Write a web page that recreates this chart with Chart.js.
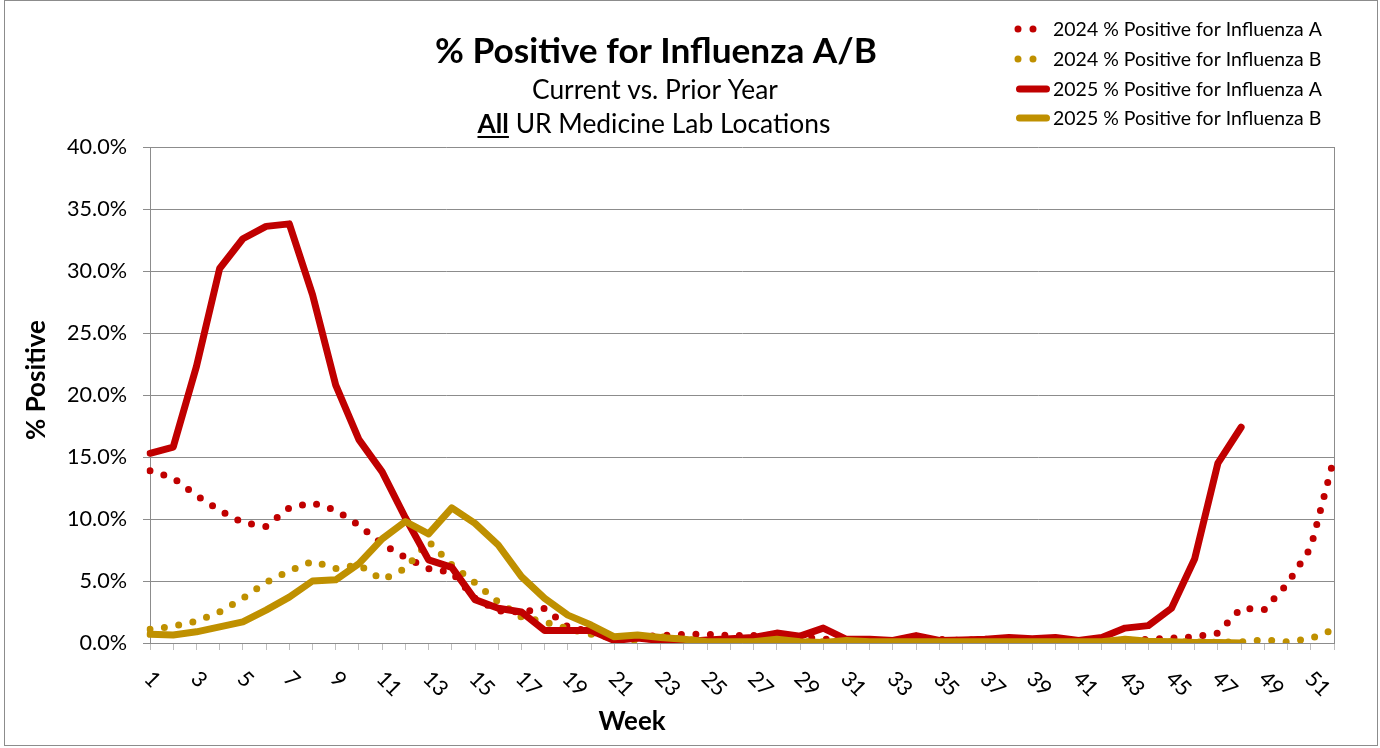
<!DOCTYPE html>
<html lang="en">
<head>
<meta charset="utf-8">
<title>% Positive for Influenza A/B</title>
<script src="https://cdn.jsdelivr.net/npm/chart.js@4.4.1/dist/chart.umd.min.js"></script>
<style>
  html, body { margin: 0; padding: 0; background: #fff; }
  #wrap { position: relative; width: 1380px; height: 748px; }
</style>
</head>
<body>
<div id="wrap"><canvas id="flu-chart"></canvas></div>
<script>
// week categories on the x axis
const weekLabels = [
  '1', '2', '3', '4', '5', '6', '7', '8', '9', '10', '11', '12', '13',
  '14', '15', '16', '17', '18', '19', '20', '21', '22', '23', '24', '25', '26',
  '27', '28', '29', '30', '31', '32', '33', '34', '35', '36', '37', '38', '39',
  '40', '41', '42', '43', '44', '45', '46', '47', '48', '49', '50', '51', '52',
];

// % positive
const fluA2024 = [
  13.9, 13.3, 11.9, 10.7, 9.7, 9.4, 10.9, 11.3, 10.7, 9.5,
  8.0, 6.9, 6.0, 5.7, 3.6, 2.6, 2.5, 2.8, 1.3, 0.9,
  0.5, 0.5, 0.6, 0.7, 0.7, 0.6, 0.6, 0.6, 0.5, 0.3,
  0.3, 0.2, 0.2, 0.3, 0.3, 0.2, 0.3, 0.3, 0.2, 0.2,
  0.2, 0.2, 0.2, 0.3, 0.4, 0.5, 0.8, 2.8, 2.7, 4.8,
  7.7, 14.9,
];
const fluB2024 = [
  1.1, 1.35, 1.75, 2.5, 3.6, 4.9, 5.8, 6.6, 6.0, 6.3,
  5.1, 6.0, 8.2, 6.3, 4.85, 3.3, 2.1, 1.7, 1.15, 0.7,
  0.4, 0.2, 0.5, 0.3, 0.2, 0.2, 0.15, 0.1, 0.1, 0.1,
  0.1, 0.1, 0.1, 0.1, 0.1, 0.1, 0.1, 0.1, 0.1, 0.1,
  0.1, 0.1, 0.15, 0.1, 0.1, 0.1, 0.05, 0.1, 0.25, 0.1,
  0.35, 1.1,
];
const fluA2025 = [
  15.3, 15.8, 22.3, 30.2, 32.6, 33.6, 33.8, 28.1, 20.8, 16.4,
  13.8, 10.1, 6.7, 6.1, 3.5, 2.8, 2.5, 1.0, 1.0, 1.0,
  0.2, 0.4, 0.2, 0.1, 0.25, 0.35, 0.45, 0.8, 0.55, 1.2,
  0.3, 0.3, 0.2, 0.6, 0.2, 0.25, 0.3, 0.45, 0.35, 0.45,
  0.2, 0.45, 1.2, 1.4, 2.8, 6.8, 14.5, 17.4, null, null,
  null, null,
];
const fluB2025 = [
  0.7, 0.65, 0.9, 1.3, 1.7, 2.65, 3.7, 5.0, 5.1, 6.4,
  8.4, 9.8, 8.8, 10.9, 9.65, 7.9, 5.35, 3.6, 2.25, 1.45,
  0.5, 0.65, 0.45, 0.3, 0.1, 0.1, 0.1, 0.3, 0.1, 0.05,
  0.2, 0.1, 0.1, 0.1, 0.1, 0.1, 0.1, 0.1, 0.1, 0.1,
  0.1, 0.1, 0.3, 0.15, 0.1, 0.05, 0.05, 0.0, null, null,
  null, null,
];

const seriesNames = [
  '2024 % Positive for Influenza A',
  '2024 % Positive for Influenza B',
  '2025 % Positive for Influenza A',
  '2025 % Positive for Influenza B',
];

const chartTitle = '% Positive for Influenza A/B';
const chartSubtitle = 'Current vs. Prior Year';
const locationBold = 'All';
const locationRest = ' UR Medicine Lab Locations';
const yAxisTitle = '% Positive';
const xAxisTitle = 'Week';

const fontFamily = 'Lato, "Open Sans", sans-serif';
const red = '#c00000';
const gold = '#bf9000';
const gridColor = '#8c8c8c';
const frameColor = '#8c8c8c';

const measureCtx = document.createElement('canvas').getContext('2d');
const fitFontSize = (text, weight, width) => {
  measureCtx.font = `${weight} 100px ${fontFamily}`;
  return (100 * width) / measureCtx.measureText(text).width;
};

const tickFontSize = fitFontSize('40.0%', 'normal', 60);
const legendFontSize = fitFontSize(seriesNames[0], 'normal', 269);

const dotted = { borderWidth: 7, borderDash: [0, 14.5] };
const solid = { borderWidth: 7, borderDash: [] };

const makeSeries = (label, data, color, style, order) => ({
  label,
  data,
  borderColor: color,
  backgroundColor: color,
  borderWidth: style.borderWidth,
  borderDash: style.borderDash,
  borderCapStyle: 'round',
  borderJoinStyle: 'round',
  pointRadius: 0,
  pointHoverRadius: 0,
  fill: false,
  tension: 0,
  spanGaps: false,
  order,
});

const decorations = {
  id: 'decorations',
  beforeDatasetsDraw(chart) {
    const { ctx, chartArea } = chart;
    ctx.save();
    ctx.strokeStyle = gridColor;
    ctx.lineWidth = 1;
    ctx.beginPath();
    ctx.moveTo(Math.round(chartArea.right) + 0.5, chartArea.top);
    ctx.lineTo(Math.round(chartArea.right) + 0.5, chartArea.bottom);
    ctx.stroke();
    ctx.restore();
  },
  afterDraw(chart) {
    const { ctx } = chart;
    const xScale = chart.scales.x;
    ctx.save();
    ctx.fillStyle = '#000';

    // rotated week labels, every second week
    ctx.font = `${tickFontSize}px ${fontFamily}`;
    ctx.textAlign = 'left';
    ctx.textBaseline = 'middle';
    xScale.ticks.forEach((tick, i) => {
      if (i % 2) return;
      const x = xScale.getPixelForTick(i);
      ctx.save();
      ctx.translate(x - 2, xScale.top + 32);
      ctx.rotate(Math.PI / 4);
      ctx.fillText(weekLabels[i], 0, 0);
      ctx.restore();
    });

    // axis titles
    ctx.textAlign = 'center';
    ctx.textBaseline = 'alphabetic';
    ctx.font = `bold ${fitFontSize(xAxisTitle, 'bold', 67)}px ${fontFamily}`;
    ctx.fillText(xAxisTitle, 632, 730);

    ctx.save();
    ctx.translate(37, 380);
    ctx.rotate(-Math.PI / 2);
    ctx.textBaseline = 'middle';
    ctx.font = `bold ${fitFontSize(yAxisTitle, 'bold', 120)}px ${fontFamily}`;
    ctx.fillText(yAxisTitle, 0, 0);
    ctx.restore();

    // title block
    ctx.font = `bold ${fitFontSize(chartTitle, 'bold', 442)}px ${fontFamily}`;
    ctx.fillText(chartTitle, 656, 63);
    ctx.font = `${fitFontSize(chartSubtitle, 'normal', 246)}px ${fontFamily}`;
    ctx.fillText(chartSubtitle, 655, 99);

    measureCtx.font = `bold 100px ${fontFamily}`;
    const boldW = measureCtx.measureText(locationBold).width;
    measureCtx.font = `100px ${fontFamily}`;
    const restW = measureCtx.measureText(locationRest).width;
    const lineSize = (100 * 353) / (boldW + restW);
    const startX = 654 - 353 / 2;
    const boldPx = (boldW * lineSize) / 100;
    ctx.textAlign = 'left';
    ctx.font = `bold ${lineSize}px ${fontFamily}`;
    ctx.fillText(locationBold, startX, 133);
    ctx.fillRect(startX, 136, boldPx, 2);
    ctx.font = `${lineSize}px ${fontFamily}`;
    ctx.fillText(locationRest, startX + boldPx, 133);

    // legend
    const legendRows = [29, 59, 89, 118];
    ctx.textBaseline = 'middle';
    ctx.font = `${legendFontSize}px ${fontFamily}`;
    chart.data.datasets.forEach((ds, i) => {
      const y = legendRows[i];
      const isDotted = ds.borderDash.length > 0;
      ctx.save();
      ctx.strokeStyle = ds.borderColor;
      ctx.lineWidth = ds.borderWidth;
      ctx.lineCap = 'round';
      ctx.setLineDash(isDotted ? [0, 15] : []);
      ctx.beginPath();
      ctx.moveTo(isDotted ? 1018 : 1019.5, y);
      ctx.lineTo(isDotted ? 1048 : 1046.5, y);
      ctx.stroke();
      ctx.restore();
      ctx.fillText(ds.label, 1053, y + 1);
    });

    // outer frame
    ctx.strokeStyle = frameColor;
    ctx.lineWidth = 1;
    ctx.strokeRect(4.5, 0.5, 1373, 745);
    ctx.restore();
  },
};

const initChart = () => {
  const canvas = document.getElementById('flu-chart');
  new Chart(canvas, {
    type: 'line',
    data: {
      labels: weekLabels,
      datasets: [
        makeSeries(seriesNames[0], fluA2024, red, dotted, 3),
        makeSeries(seriesNames[1], fluB2024, gold, dotted, 2),
        makeSeries(seriesNames[2], fluA2025, red, solid, 1),
        makeSeries(seriesNames[3], fluB2025, gold, solid, 0),
      ],
    },
    options: {
      responsive: true,
      maintainAspectRatio: false,
      devicePixelRatio: 1,
      animation: false,
      events: [],
      layout: {
        padding: { top: 147, right: 46, bottom: 0, left: 0 },
      },
      plugins: {
        legend: { display: false },
        title: { display: false },
        tooltip: { enabled: false },
      },
      scales: {
        x: {
          type: 'category',
          offset: false,
          grid: {
            display: true,
            drawOnChartArea: false,
            drawTicks: true,
            tickLength: 7,
            tickColor: '#bfbfbf',
          },
          border: { display: true, color: gridColor, width: 1 },
          ticks: { display: false, autoSkip: false },
          afterFit: (scale) => {
            scale.height = 105;
          },
        },
        y: {
          min: 0,
          max: 40,
          grid: {
            color: gridColor,
            lineWidth: 1,
            drawTicks: true,
            tickLength: 7,
            tickColor: gridColor,
          },
          border: { display: true, color: gridColor, width: 1 },
          ticks: {
            stepSize: 5,
            padding: 16,
            color: '#000',
            font: { family: fontFamily, size: tickFontSize },
            callback: (value) => `${Number(value).toFixed(1)}%`,
          },
          afterFit: (scale) => {
            scale.width = 150;
          },
        },
      },
    },
    plugins: [decorations],
  });
};

if (document.readyState === 'loading') {
  document.addEventListener('DOMContentLoaded', initChart);
} else {
  initChart();
}
</script>
</body>
</html>
